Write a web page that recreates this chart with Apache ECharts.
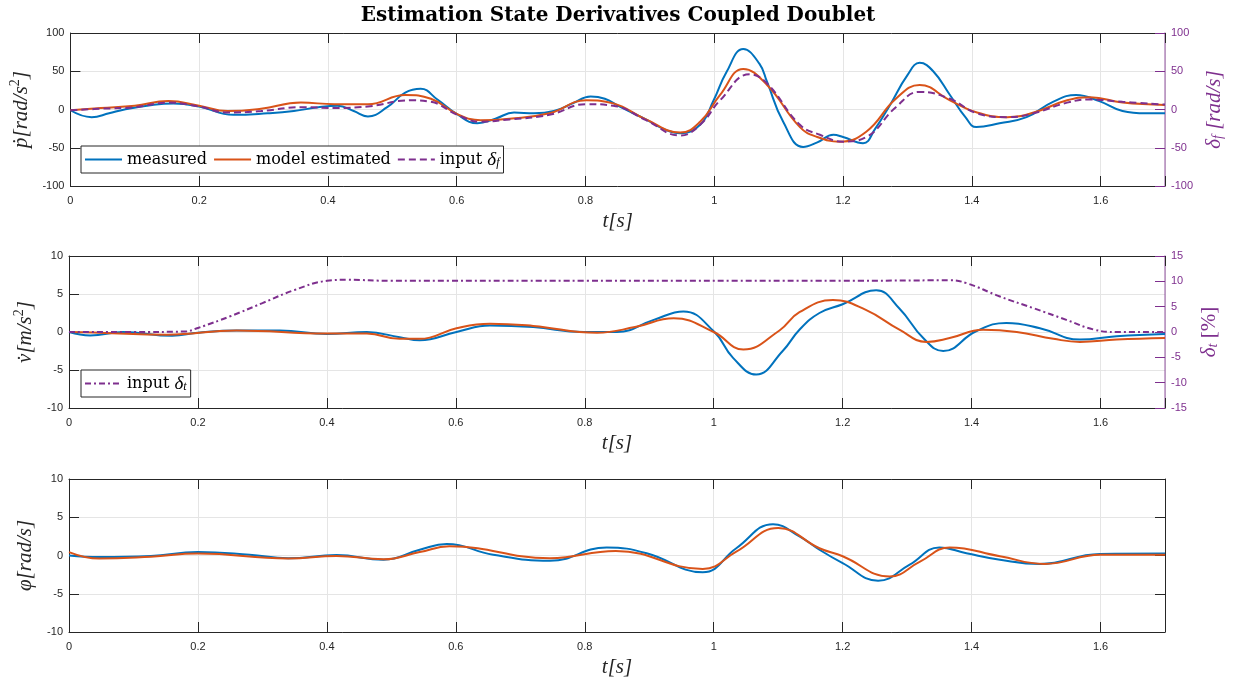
<!DOCTYPE html>
<html>
<head>
<meta charset="utf-8">
<script src="https://cdn.jsdelivr.net/npm/echarts@6/dist/echarts.min.js"></script>
<style>
  html, body { margin: 0; padding: 0; background: #fff; }
  #chart { width: 1236px; height: 680px; }
</style>
</head>
<body>
<div id="chart"></div>
<script>
// ---- Roll acceleration panel: p-dot measured / estimated, aileron input ----
const tPMeas = [0, 0.033, 0.06, 0.084, 0.127, 0.16, 0.2, 0.253, 0.306, 0.347, 0.385, 0.415, 0.44, 0.462, 0.492, 0.52, 0.544, 0.57, 0.601, 0.632, 0.66, 0.689, 0.72, 0.751, 0.78, 0.808, 0.83, 0.854, 0.896, 0.92, 0.947, 0.978, 0.999, 1.019, 1.045, 1.07, 1.082, 1.107, 1.138, 1.16, 1.185, 1.2, 1.231, 1.25, 1.273, 1.3, 1.319, 1.34, 1.366, 1.39, 1.407, 1.443, 1.485, 1.526, 1.562, 1.598, 1.634, 1.67, 1.7];
const pMeas  = [-1, -10, -5, 0, 6, 8, 4, -7, -5, -2, 3, 5, -2, -9, 3, 22, 27, 13, -6.5, -18, -12, -4, -5, -2, 8, 17, 14, 3.5, -14, -25, -31, -20, 12, 49, 79, 60, 36, -16, -49, -43, -33, -36, -44, -25, 6, 45, 61, 50, 19, -10, -23, -18, -10, 10, 19, 11, -2, -5, -5];

const tPEst = [0, 0.047, 0.1, 0.152, 0.2, 0.244, 0.296, 0.358, 0.41, 0.462, 0.52, 0.56, 0.601, 0.637, 0.682, 0.744, 0.801, 0.843, 0.894, 0.947, 0.978, 1.009, 1.045, 1.082, 1.133, 1.16, 1.195, 1.236, 1.282, 1.319, 1.366, 1.408, 1.455, 1.496, 1.548, 1.584, 1.634, 1.7];
const pEst  = [-1, 2, 5, 11, 5, -2, 1, 9, 7, 7, 19, 14, -6, -14, -12, -5, 12, 8, -13, -30, -16, 19, 53, 32, -23, -36, -42, -29, 14, 32, 12, -4, -10, -4, 12, 16, 9, 6];

const tDf = [0, 0.047, 0.1, 0.152, 0.2, 0.244, 0.296, 0.358, 0.41, 0.462, 0.529, 0.56, 0.601, 0.637, 0.682, 0.744, 0.801, 0.843, 0.894, 0.947, 0.978, 1.009, 1.055, 1.082, 1.133, 1.164, 1.2, 1.236, 1.282, 1.319, 1.366, 1.408, 1.455, 1.496, 1.548, 1.584, 1.634, 1.7];
const deltaF = [-1, 1, 3, 9, 4, -4, -2, 3, 2, 4, 12, 10, -7, -16, -13, -7, 7, 5, -14, -34, -20, 12, 46, 34, -20, -33, -42, -36, 3, 23, 14, -5, -10, -5, 9, 13, 10, 6.5];

// ---- Longitudinal acceleration panel: v-dot measured / estimated, throttle input ----
const tVMeas = [0, 0.033, 0.084, 0.16, 0.2, 0.26, 0.327, 0.4, 0.462, 0.513, 0.544, 0.601, 0.653, 0.72, 0.798, 0.85, 0.907, 0.953, 1.0, 1.03, 1.066, 1.107, 1.133, 1.164, 1.2, 1.252, 1.288, 1.325, 1.356, 1.407, 1.454, 1.506, 1.568, 1.625, 1.7];
const vMeas  = [0, -0.45, 0, -0.5, -0.1, 0.2, 0.2, -0.25, 0, -0.7, -1.1, 0, 0.85, 0.65, 0, 0, 1.6, 2.7, 0.1, -3.4, -5.6, -2.5, 0.3, 2.5, 3.65, 5.5, 3.1, -0.8, -2.5, 0.1, 1.2, 0.5, -1, -0.55, -0.25];

const tVEst = [0, 0.047, 0.152, 0.26, 0.4, 0.462, 0.513, 0.544, 0.601, 0.653, 0.72, 0.819, 0.878, 0.938, 1.0, 1.046, 1.102, 1.133, 1.185, 1.236, 1.288, 1.33, 1.366, 1.418, 1.47, 1.527, 1.568, 1.625, 1.7];
const vEst  = [0, -0.1, -0.35, 0.2, -0.2, -0.2, -0.9, -0.9, 0.5, 1.1, 0.8, -0.1, 0.65, 1.8, 0, -2.3, 0.2, 2.6, 4.2, 2.9, 0.3, -1.3, -0.8, 0.3, 0, -0.9, -1.3, -1, -0.8];

const tDt = [0, 0.1, 0.18, 0.2, 0.25, 0.3, 0.35, 0.4, 0.43, 0.5, 0.8, 1.2, 1.366, 1.392, 1.444, 1.496, 1.547, 1.589, 1.625, 1.7];
const deltaT = [0, 0, 0.1, 0.8, 3.1, 5.7, 8.3, 10.1, 10.3, 10.1, 10.1, 10.1, 10.2, 9.65, 7.0, 4.7, 2.4, 0.5, 0, 0];

// ---- Roll rate panel: phi-dot measured / estimated ----
const tPhiMeas = [0, 0.047, 0.127, 0.2, 0.28, 0.34, 0.415, 0.488, 0.544, 0.586, 0.658, 0.746, 0.834, 0.896, 0.983, 1.035, 1.092, 1.133, 1.164, 1.2, 1.255, 1.304, 1.35, 1.392, 1.444, 1.506, 1.599, 1.7];
const phiMeas  = [0, -0.2, -0.05, 0.45, 0.1, -0.35, 0.05, -0.55, 0.75, 1.5, 0.1, -0.7, 1.05, 0.3, -2.2, 0.95, 4.1, 2.5, 0.75, -1, -3.3, -1.2, 1.05, 0.3, -0.55, -1.1, 0.2, 0.25];

const tPhiEst = [0, 0.047, 0.127, 0.2, 0.34, 0.415, 0.488, 0.544, 0.59, 0.746, 0.848, 0.983, 1.035, 1.1, 1.164, 1.2, 1.273, 1.32, 1.366, 1.444, 1.513, 1.6, 1.7];
const phiEst  = [0.45, -0.4, -0.15, 0.25, -0.4, -0.05, -0.5, 0.45, 1.2, -0.35, 0.6, -1.75, 0.5, 3.6, 0.95, -0.1, -2.75, -0.8, 1.05, -0.1, -1.1, 0.1, 0.1];

// ---- Axis tick settings ----
const xTicks = { min: 0, max: 1.7, interval: 0.2 };
const leftP = { min: -100, max: 100, interval: 50 };
const rightP = { min: -100, max: 100, interval: 50 };
const leftV = { min: -10, max: 10, interval: 5 };
const rightV = { min: -15, max: 15, interval: 5 };
const leftPhi = { min: -10, max: 10, interval: 5 };

const BLUE = '#0072BD', ORANGE = '#D95319', PURPLE = '#7E2F8E';
const AXIS = '#262626', GRID = '#e5e5e5';
const SERIF = '"Liberation Serif", "DejaVu Serif", serif';
const WIDE_SERIF = '"DejaVu Serif", "Liberation Serif", serif';
const SANS = '"Liberation Sans", Arial, sans-serif';

const zip = (t, v) => t.map((x, i) => [x, v[i]]);

const gridTops = [33, 256, 479];
const gridHeights = [153, 152, 153];

const mathRich = {
  n: { fontFamily: SERIF, fontStyle: 'italic', fontSize: 21, color: AXIS },
  u: { fontFamily: SERIF, fontSize: 21, color: AXIS },
  sup: { fontFamily: SERIF, fontSize: 14, color: AXIS, verticalAlign: 'top', lineHeight: 26 },
  sub: { fontFamily: SERIF, fontStyle: 'italic', fontSize: 14, color: AXIS, verticalAlign: 'bottom', lineHeight: 18 }
};
const purpleRich = {
  n: { fontFamily: SERIF, fontStyle: 'italic', fontSize: 21, color: PURPLE },
  u: { fontFamily: SERIF, fontSize: 21, color: PURPLE },
  sub: { fontFamily: SERIF, fontStyle: 'italic', fontSize: 14, color: PURPLE, verticalAlign: 'bottom', lineHeight: 18 }
};

function xAxes(gi) {
  return [
    {
      type: 'value', gridIndex: gi, position: 'bottom', ...xTicks,
      name: 't[s]', nameLocation: 'middle', nameGap: 25,
      nameTextStyle: { fontFamily: SERIF, fontStyle: 'italic', fontSize: 21, color: AXIS },
      axisLine: { show: true, onZero: false, lineStyle: { color: AXIS, width: 1 } },
      axisTick: { show: true, inside: true, length: 10, lineStyle: { color: AXIS } },
      axisLabel: {
        color: AXIS, fontFamily: SANS, fontSize: 11, margin: 9,
        formatter: v => (Math.abs(v * 5 - Math.round(v * 5)) < 1e-6 && v < 1.65) ? String(+v.toFixed(1)) : ''
      },
      splitLine: { show: true, lineStyle: { color: GRID, width: 1 } }
    },
    {
      type: 'value', gridIndex: gi, position: 'top', ...xTicks,
      axisLine: { show: true, onZero: false, lineStyle: { color: AXIS, width: 1 } },
      axisTick: { show: true, inside: true, length: 10, lineStyle: { color: AXIS } },
      axisLabel: { show: false },
      splitLine: { show: false }
    }
  ];
}

function leftAxis(gi, range, name) {
  return {
    type: 'value', gridIndex: gi, position: 'left', ...range,
    name, nameLocation: 'middle', nameGap: 30,
    nameTextStyle: { rich: mathRich },
    axisLine: { show: true, onZero: false, lineStyle: { color: AXIS, width: 1 } },
    axisTick: { show: true, inside: true, length: 10, lineStyle: { color: AXIS } },
    axisLabel: { color: AXIS, fontFamily: SANS, fontSize: 11, margin: 6 },
    splitLine: { show: true, lineStyle: { color: GRID, width: 1 } }
  };
}

function rightAxis(gi, range, name) {
  return {
    type: 'value', gridIndex: gi, position: 'right', ...range,
    name, nameLocation: 'middle', nameGap: 34,
    nameTextStyle: { rich: purpleRich },
    axisLine: { show: true, onZero: false, lineStyle: { color: 'rgba(126,47,142,0.55)', width: 1.5 } },
    axisTick: { show: true, inside: true, length: 10, lineStyle: { color: PURPLE } },
    axisLabel: { color: PURPLE, fontFamily: SANS, fontSize: 11, margin: 6 },
    splitLine: { show: false }
  };
}

function rightMirror(gi, range) {
  return {
    type: 'value', gridIndex: gi, position: 'right', ...range,
    axisLine: { show: true, onZero: false, lineStyle: { color: AXIS, width: 1 } },
    axisTick: { show: true, inside: true, length: 10, lineStyle: { color: AXIS } },
    axisLabel: { show: false },
    splitLine: { show: false }
  };
}

function line(name, data, xi, yi, color, dash) {
  return {
    name, type: 'line', data, xAxisIndex: xi, yAxisIndex: yi,
    smooth: 0.45, showSymbol: false, symbol: 'none',
    lineStyle: { color, width: 2, type: dash || 'solid' },
    itemStyle: { color },
    emphasis: { disabled: true }
  };
}

const legendText = {
  fontFamily: WIDE_SERIF, fontSize: 16, color: '#000',
  rich: {
    a: { fontFamily: WIDE_SERIF, fontSize: 16, color: '#000' },
    m: { fontFamily: SERIF, fontStyle: 'italic', fontSize: 19, color: '#000' },
    s: { fontFamily: SERIF, fontStyle: 'italic', fontSize: 12, color: '#000', verticalAlign: 'bottom', lineHeight: 16 }
  }
};

// legend keys show only the line stroke, no marker
const legendBase = {
  itemWidth: 37, itemHeight: 14, itemGap: 6,
  padding: [4, 4, 4, 3],
  backgroundColor: '#fff', borderColor: AXIS, borderWidth: 1, borderRadius: 0,
  itemStyle: { opacity: 0 },
  textStyle: legendText,
  selectedMode: false
};

const option = {
  animation: false,
  backgroundColor: '#ffffff',
  title: {
    text: 'Estimation State Derivatives Coupled Doublet',
    left: 'center', top: 1,
    textStyle: { fontFamily: WIDE_SERIF, fontWeight: 'bold', fontSize: 20, color: '#000' }
  },
  grid: gridTops.map((top, i) => ({ left: 69, right: 71, top, height: gridHeights[i], containLabel: false })),
  xAxis: [...xAxes(0), ...xAxes(1), ...xAxes(2)],
  yAxis: [
    leftAxis(0, leftP, '{n|ṗ[rad/s}{sup|2}{n|]}'),
    rightAxis(0, rightP, '{n|δ}{sub|f}{n| [rad/s]}'),
    leftAxis(1, leftV, '{n|v̇[m/s}{sup|2}{n|]}'),
    rightAxis(1, rightV, '{n|δ}{sub|t}{u| [%]}'),
    leftAxis(2, leftPhi, '{n|φ̇[rad/s]}'),
    rightMirror(2, leftPhi)
  ],
  legend: [
    {
      ...legendBase,
      data: ['measured', 'model estimated', 'input δf'],
      left: 81, top: 146, orient: 'horizontal',
      formatter: n => n === 'input δf' ? '{a|input }{m|δ}{s|f}' : '{a|' + n + '}'
    },
    {
      ...legendBase,
      data: ['input δt'],
      left: 81, top: 370,
      formatter: () => '{a|input }{m|δ}{s|t}'
    }
  ],
  series: [
    line('measured', zip(tPMeas, pMeas), 0, 0, BLUE),
    line('model estimated', zip(tPEst, pEst), 0, 0, ORANGE),
    line('input δf', zip(tDf, deltaF), 0, 1, PURPLE, [7, 4]),

    line('v measured', zip(tVMeas, vMeas), 2, 2, BLUE),
    line('v model estimated', zip(tVEst, vEst), 2, 2, ORANGE),
    line('input δt', zip(tDt, deltaT), 2, 3, PURPLE, [6, 3, 2, 3]),

    line('phi measured', zip(tPhiMeas, phiMeas), 4, 4, BLUE),
    line('phi model estimated', zip(tPhiEst, phiEst), 4, 4, ORANGE)
  ]
};

const chart = echarts.init(document.getElementById('chart'), null, { renderer: 'canvas' });
chart.setOption(option);
</script>
</body>
</html>
